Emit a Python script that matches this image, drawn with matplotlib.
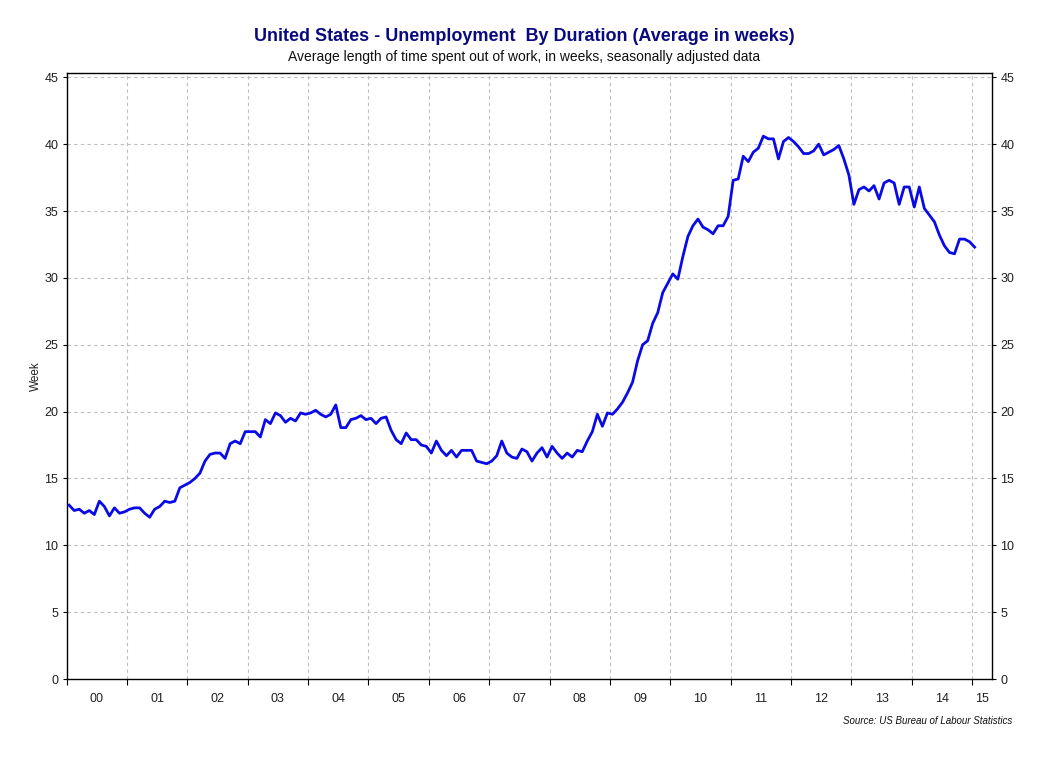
import numpy as np
import matplotlib
matplotlib.use('Agg')
import matplotlib.pyplot as plt

# Average weeks unemployed, monthly, Jan 2000 - Jan 2015
weeks_2000 = [13.0, 12.6, 12.7, 12.4, 12.6, 12.3, 13.3, 12.9, 12.2, 12.8, 12.4, 12.5]
weeks_2001 = [12.7, 12.8, 12.8, 12.4, 12.1, 12.7, 12.9, 13.3, 13.2, 13.3, 14.3, 14.5]
weeks_2002 = [14.7, 15.0, 15.4, 16.3, 16.8, 16.9, 16.9, 16.5, 17.6, 17.8, 17.6, 18.5]
weeks_2003 = [18.5, 18.5, 18.1, 19.4, 19.1, 19.9, 19.7, 19.2, 19.5, 19.3, 19.9, 19.8]
weeks_2004 = [19.9, 20.1, 19.8, 19.6, 19.8, 20.5, 18.8, 18.8, 19.4, 19.5, 19.7, 19.4]
weeks_2005 = [19.5, 19.1, 19.5, 19.6, 18.6, 17.9, 17.6, 18.4, 17.9, 17.9, 17.5, 17.4]
weeks_2006 = [16.9, 17.8, 17.1, 16.7, 17.1, 16.6, 17.1, 17.1, 17.1, 16.3, 16.2, 16.1]
weeks_2007 = [16.3, 16.7, 17.8, 16.9, 16.6, 16.5, 17.2, 17.0, 16.3, 16.9, 17.3, 16.6]
weeks_2008 = [17.4, 16.9, 16.5, 16.9, 16.6, 17.1, 17.0, 17.8, 18.5, 19.8, 18.9, 19.9]
weeks_2009 = [19.8, 20.2, 20.7, 21.4, 22.2, 23.8, 25.0, 25.3, 26.6, 27.4, 28.9, 29.6]
weeks_2010 = [30.3, 29.9, 31.6, 33.1, 33.9, 34.4, 33.8, 33.6, 33.3, 33.9, 33.9, 34.6]
weeks_2011 = [37.3, 37.4, 39.1, 38.7, 39.4, 39.7, 40.6, 40.4, 40.4, 38.9, 40.2, 40.5]
weeks_2012 = [40.2, 39.8, 39.3, 39.3, 39.5, 40.0, 39.2, 39.4, 39.6, 39.9, 38.9, 37.7]
weeks_2013 = [35.5, 36.6, 36.8, 36.5, 36.9, 35.9, 37.1, 37.3, 37.1, 35.5, 36.8, 36.8]
weeks_2014 = [35.3, 36.8, 35.2, 34.7, 34.2, 33.2, 32.4, 31.9, 31.8, 32.9, 32.9, 32.7]
weeks_2015 = [32.3]

year_labels = ['00', '01', '02', '03', '04', '05', '06', '07', '08', '09',
               '10', '11', '12', '13', '14', '15']
y_ticks = [0, 5, 10, 15, 20, 25, 30, 35, 40, 45]

values = (weeks_2000 + weeks_2001 + weeks_2002 + weeks_2003 + weeks_2004 +
          weeks_2005 + weeks_2006 + weeks_2007 + weeks_2008 + weeks_2009 +
          weeks_2010 + weeks_2011 + weeks_2012 + weeks_2013 + weeks_2014 +
          weeks_2015)
# decimal year, plotted mid-month
months = np.arange(len(values))
x = 2000 + (months + 0.5) / 12.0

plt.rcParams['font.family'] = ['Liberation Sans', 'DejaVu Sans']

fig = plt.figure(figsize=(10.48, 7.76), dpi=100)
ax = fig.add_axes([0.0636, 0.125, 0.8830, 0.7805])

x_end = 2015.33
ax.set_xlim(2000, x_end)
ax.set_ylim(0, 45.3)

ax.plot(x, values, color='#0A0AE6', linewidth=2.0, solid_joinstyle='round', zorder=3)

# grid: year boundaries and every 5 weeks
grid_style = dict(color='#BDBDBD', linestyle=(0, (3, 3)), linewidth=0.8, zorder=1)
for yr in range(2001, 2016):
    ax.axvline(yr, **grid_style)
for yv in y_ticks[1:]:
    ax.axhline(yv, **grid_style)

# x labels centred in each year
ax.set_xticks(range(2000, 2016))
ax.tick_params(axis='x', which='major', direction='out', length=4, labelbottom=False)
centres = [yr + 0.5 for yr in range(2000, 2015)] + [(2015 + x_end) / 2]
ax.set_xticks(centres, minor=True)
ax.set_xticklabels(year_labels, minor=True)
ax.tick_params(axis='x', which='minor', length=0, pad=10, labelsize=9, labelcolor='#202020')

ax.set_yticks(y_ticks)
ax.tick_params(axis='y', direction='out', length=3, labelsize=9, labelcolor='#202020',
               left=True, right=True, labelleft=True, labelright=True, pad=3)

for s in ax.spines.values():
    s.set_color('black')
    s.set_linewidth(1.0)

ax.set_ylabel('Week', fontsize=8.5, color='#202020', labelpad=2)

fig.text(0.5, 0.953, 'United States - Unemployment  By Duration (Average in weeks)',
         ha='center', va='center', fontsize=13, fontweight='bold', color='#0A0A80')
fig.text(0.5, 0.927, 'Average length of time spent out of work, in weeks, seasonally adjusted data',
         ha='center', va='center', fontsize=10, color='#101010')
fig.text(0.966, 0.071, 'Source: US Bureau of Labour Statistics',
         ha='right', va='center', fontsize=7, style='italic', color='#101010')

fig.savefig('out.png', dpi=100)
